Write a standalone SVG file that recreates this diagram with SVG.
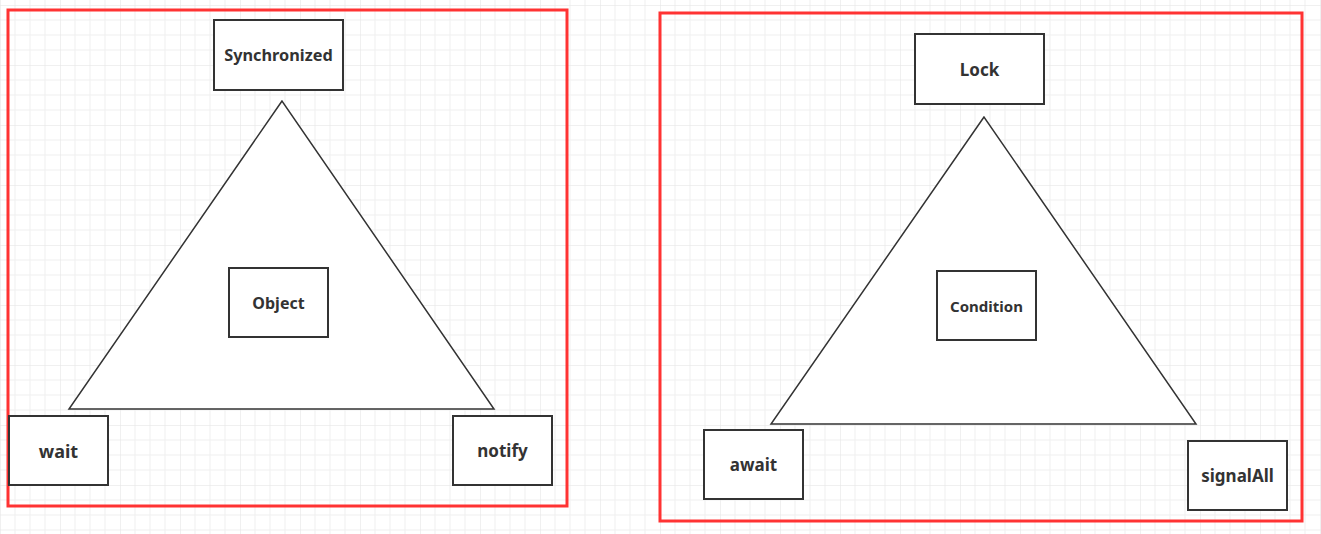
<svg xmlns="http://www.w3.org/2000/svg" width="1321" height="534" viewBox="0 0 1321 534">
<defs>
<pattern id="g" width="60" height="60" patternUnits="userSpaceOnUse" x="0" y="5">
<path d="M15 0V60M30 0V60M45 0V60M0 15H60M0 30H60M0 45H60" stroke="#efefef" stroke-width="1" fill="none"/>
<path d="M0 0V60M0 0H60" stroke="#e2e2e2" stroke-width="1" fill="none"/>
</pattern>
<style>
.frame{fill:none;stroke:#f33;stroke-width:3}
.box{fill:#fff;stroke:#333;stroke-width:2}
.tri{fill:#fff;stroke:#333;stroke-width:1.5}
text{font-family:"Noto Sans","Open Sans",sans-serif;font-weight:bold;fill:#333;text-anchor:middle;dominant-baseline:central}
</style>
</defs>
<rect width="1321" height="534" fill="#fff"/>
<rect width="1321" height="534" fill="url(#g)"/>
<g id="connectors">
<polygon class="tri" points="282,101 69,409 494,409"/>
<polygon class="tri" points="984,117 771,424 1196,424"/>
</g>
<rect class="frame" x="8" y="10" width="559" height="496"/>
<rect class="frame" x="660" y="13" width="642" height="508"/>
<g id="synchronized"><rect class="box" x="214" y="20" width="129" height="70"/><text x="278.5" y="55" font-size="16.3">Synchronized</text></g>
<g id="object"><rect class="box" x="229" y="268" width="99" height="69"/><text x="278.5" y="302.5" font-size="16">Object</text></g>
<g id="wait"><rect class="box" x="9" y="416" width="99" height="69"/><text x="58.5" y="450.5" font-size="18">wait</text></g>
<g id="notify"><rect class="box" x="453" y="416" width="99" height="69"/><text x="502.5" y="450.5" font-size="17">notify</text></g>
<g id="lock"><rect class="box" x="915" y="34" width="129" height="70"/><text x="979.5" y="69" font-size="17">Lock</text></g>
<g id="condition"><rect class="box" x="937" y="271" width="99" height="69"/><text x="986.5" y="305.5" font-size="15">Condition</text></g>
<g id="await"><rect class="box" x="704" y="430" width="99" height="69"/><text x="753.5" y="464.5" font-size="17">await</text></g>
<g id="signalAll"><rect class="box" x="1188" y="441" width="99" height="69"/><text x="1237.5" y="475.5" font-size="17">signalAll</text></g>
</svg>
